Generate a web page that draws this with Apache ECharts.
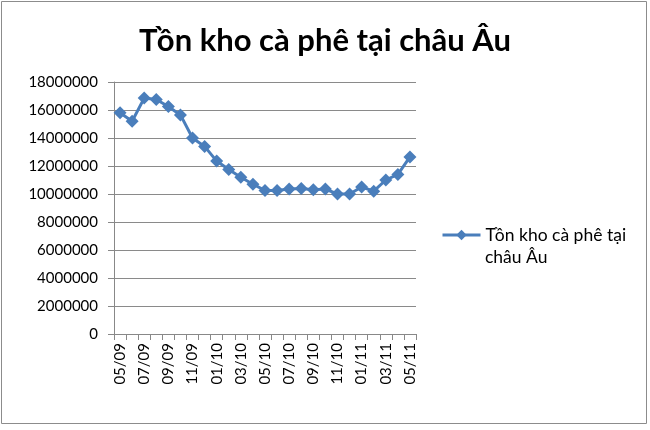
<!DOCTYPE html>
<html><head><meta charset="utf-8">
<script src="https://cdn.jsdelivr.net/npm/echarts@6/dist/echarts.min.js"></script>
<style>html,body{margin:0;padding:0;background:#fff}#c{width:650px;height:430px}</style>
</head><body><div id="c"></div>
<script>
const titleText = 'Tồn kho cà phê tại châu Âu';
const seriesName = 'Tồn kho cà phê tại châu Âu';
const legendLine1 = 'Tồn kho cà phê tại';
const legendLine2 = 'châu Âu';
const categories = ['05/09','06/09','07/09','08/09','09/09','10/09','11/09','12/09','01/10','02/10','03/10','04/10','05/10','06/10','07/10','08/10','09/10','10/10','11/10','12/10','01/11','02/11','03/11','04/11','05/11'];
const values = [15800000,15200000,16850000,16750000,16250000,15650000,14000000,13400000,12350000,11750000,11200000,10700000,10250000,10250000,10350000,10400000,10300000,10350000,10000000,10000000,10500000,10200000,11000000,11400000,12650000];
const yTicks = {min:0, max:18000000, interval:2000000};

const chart = echarts.init(document.getElementById('c'));
const font = 'Lato, "Open Sans", sans-serif';
chart.setOption({
  animation:false,
  backgroundColor:'#fff',
  graphic:[
    {type:'rect',shape:{x:1.5,y:1.5,width:645,height:422},style:{fill:'none',stroke:'#8c8c8c',lineWidth:1}},
    {type:'text',left:485,top:248,style:{text:legendLine2,font:'17.5px '+font,fill:'#000'}}
  ],
  title:{text:titleText,left:'center',top:20,textStyle:{fontFamily:font,fontSize:31,fontWeight:'bold',color:'#000'}},
  grid:{left:114,right:234,top:82,bottom:96},
  legend:{left:436,top:221,padding:5,orient:'vertical',itemWidth:38,itemHeight:13,
    data:[{name:seriesName}],
    formatter:()=> legendLine1,
    lineStyle:{width:3},
    textStyle:{fontFamily:font,fontSize:17.5,color:'#000'}},
  xAxis:{type:'category',data:categories,boundaryGap:true,
    axisLine:{lineStyle:{color:'#888'}},
    axisTick:{show:true,interval:0,length:6,lineStyle:{color:'#888'}},
    axisLabel:{interval:1,rotate:90,fontFamily:font,fontSize:15,color:'#000',margin:9}},
  yAxis:{type:'value',min:yTicks.min,max:yTicks.max,interval:yTicks.interval,
    axisLine:{show:true,lineStyle:{color:'#888'}},
    axisTick:{show:true,length:6,lineStyle:{color:'#888'}},
    splitLine:{lineStyle:{color:'#8a8a8a'}},
    axisLabel:{fontFamily:font,fontSize:15,color:'#000',margin:16,formatter:v=>String(v)}},
  series:[{name:seriesName,type:'line',data:values,symbol:'diamond',symbolSize:13,showAllSymbol:true,
    lineStyle:{color:'#4a7ebb',width:3},itemStyle:{color:'#4a7ebb'}}]
});
</script></body></html>
